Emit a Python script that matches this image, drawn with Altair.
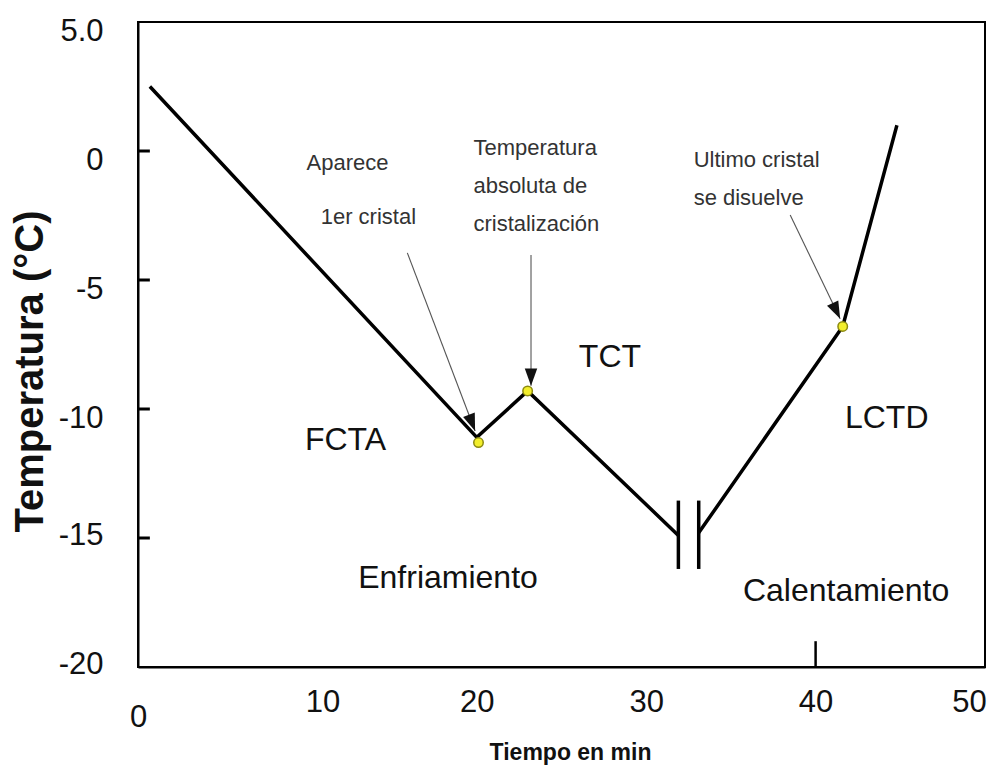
import math
import altair as alt
import pandas as pd

# ---- data ----
# cooling curve (before the axis break) and heating curve (after the break)
seg1_x = [0.7, 20.0, 23.0, 31.9]
seg1_y = [2.5, -11.1, -9.3, -14.9]
seg2_x = [33.1, 41.6, 44.8]
seg2_y = [-14.8, -6.8, 1.0]

# highlighted points
dot_x = [20.1, 23.0, 41.6]
dot_y = [-11.3, -9.3, -6.8]

# axis-break bars
break_x = [31.9, 33.1]
break_top = [-13.55, -13.55]
break_bot = [-16.2, -16.2]

# axes
x_ticks = [0, 10, 20, 30, 40, 50]
y_ticks = [5, 0, -5, -10, -15, -20]
y_inner_ticks = [0, -5, -10, -15]
x_inner_ticks = [40]

# region labels
region_text = ["FCTA", "TCT", "LCTD", "Enfriamiento", "Calentamiento"]
region_x = [12.25, 27.86, 44.2, 18.3, 41.8]
region_y = [-11.2, -7.98, -10.35, -16.55, -17.05]

# annotations
note_c_text = ["Aparece", "1er cristal"]
note_c_x = [12.37, 13.6]
note_c_y = [-0.47, -2.56]

note_l_text = ["Temperatura\nabsoluta de\ncristalización", "Ultimo cristal\nse disuelve"]
note_l_x = [19.8, 32.8]
note_l_y = [0.12, -0.35]

arrow_x1 = [15.9, 23.2, 38.5]
arrow_y1 = [-3.95, -4.03, -2.48]
arrow_x2 = [19.9, 23.2, 41.45]
arrow_y2 = [-10.85, -9.1, -6.5]

# ---- chart ----
W, H = 847, 645
XMIN, XMAX, YMIN, YMAX = 0, 50, -20, 5
FONT = "Liberation Sans, Arial, sans-serif"

x_scale = alt.Scale(domain=[XMIN, XMAX], nice=False, zero=False)
y_scale = alt.Scale(domain=[YMIN, YMAX], nice=False, zero=False)

x_axis = alt.Axis(
    values=x_ticks, title="Tiempo en min", labelFont=FONT, labelFontSize=31,
    labelBaseline={"condition": {"test": "datum.value == 0", "value": "top"}, "value": "middle"},
    labelPadding=35, labelFlush=False, labelOverlap=False,
    labelOffset={"condition": [
        {"test": "datum.value == 10", "value": 15},
        {"test": "datum.value == 50", "value": -16},
    ], "value": 0},
    titleFont=FONT, titleFontSize=23, titleFontWeight="bold",
    titleX=432, titleY=85, titleBaseline="middle", titleAlign="center",
)
y_axis = alt.Axis(
    values=y_ticks, title="Temperatura (°C)", labelFont=FONT, labelFontSize=31,
    labelPadding=35, labelFlush=False, labelOverlap=False,
    labelExpr="datum.value == 5 ? '5.0' : toString(datum.value)",
    labelOffset={"condition": {"test": "datum.value < -12", "value": -3}, "value": 9},
    titleFont=FONT, titleFontSize=40, titleFontWeight="bold",
    titleX=-108, titleY=349, titleBaseline="middle", titleAlign="center", titleAngle=270,
)

X = alt.X("x:Q", scale=x_scale, axis=x_axis)
Y = alt.Y("y:Q", scale=y_scale, axis=y_axis)

curve = pd.DataFrame({
    "x": seg1_x + seg2_x,
    "y": seg1_y + seg2_y,
    "seg": ["enfriamiento"] * len(seg1_x) + ["calentamiento"] * len(seg2_x),
    "ord": list(range(len(seg1_x) + len(seg2_x))),
})
line = alt.Chart(curve).mark_line(
    color="black", strokeWidth=3.5, strokeJoin="miter", strokeCap="butt"
).encode(x=X, y=Y, detail="seg:N", order="ord:Q")

breaks = pd.DataFrame({"x": break_x, "y": break_top, "y2": break_bot})
break_rules = alt.Chart(breaks).mark_rule(color="black", strokeWidth=3.5).encode(
    x=X, y=Y, y2="y2:Q")

ytk = pd.DataFrame({"x": [XMIN] * len(y_inner_ticks), "x2": [XMIN + 0.7] * len(y_inner_ticks),
                    "y": y_inner_ticks})
ytick_rules = alt.Chart(ytk).mark_rule(color="black", strokeWidth=3).encode(x=X, x2="x2:Q", y=Y)

xtk = pd.DataFrame({"x": x_inner_ticks, "y": [YMIN] * len(x_inner_ticks),
                    "y2": [YMIN + 1.0] * len(x_inner_ticks)})
xtick_rules = alt.Chart(xtk).mark_rule(color="black", strokeWidth=2.5).encode(x=X, y=Y, y2="y2:Q")

px_x = W / (XMAX - XMIN)
px_y = H / (YMAX - YMIN)
angles = []
for a, b, c, d in zip(arrow_x1, arrow_y1, arrow_x2, arrow_y2):
    dx = (c - a) * px_x
    dy = -(d - b) * px_y
    angles.append(math.degrees(math.atan2(-dx, dy)) % 360)
arrows = pd.DataFrame({"x": arrow_x1, "y": arrow_y1, "x2": arrow_x2, "y2": arrow_y2})
arrow_lines = alt.Chart(arrows).mark_rule(color="#555555", strokeWidth=1.1).encode(
    x=X, y=Y, x2="x2:Q", y2="y2:Q")
heads = pd.DataFrame({"x": arrow_x2, "y": arrow_y2, "ang": angles})
arrow_heads = alt.Chart(heads).mark_point(
    shape="M0,0L-0.36,-1L0.36,-1Z", filled=True, color="#111111", size=1200, opacity=1
).encode(x=X, y=Y, angle=alt.Angle("ang:Q", scale=None))

dots = pd.DataFrame({"x": dot_x, "y": dot_y})
dot_marks = alt.Chart(dots).mark_point(
    shape="circle", filled=True, fill="#f2ee2c", stroke="#8c8a10", strokeWidth=1.5,
    size=90, opacity=1
).encode(x=X, y=Y)

regions = pd.DataFrame({"x": region_x, "y": region_y, "t": region_text})
region_marks = alt.Chart(regions).mark_text(
    font=FONT, fontSize=32, color="#111111", align="center", baseline="middle"
).encode(x=X, y=Y, text="t:N")

notes_c = pd.DataFrame({"x": note_c_x, "y": note_c_y, "t": note_c_text})
note_c_marks = alt.Chart(notes_c).mark_text(
    font=FONT, fontSize=22, color="#333333", align="center", baseline="middle"
).encode(x=X, y=Y, text="t:N")

notes_l = pd.DataFrame({"x": note_l_x, "y": note_l_y, "t": note_l_text})
note_l_marks = alt.Chart(notes_l).mark_text(
    font=FONT, fontSize=22, color="#333333", align="left", baseline="middle",
    lineBreak="\n", lineHeight=38
).encode(x=X, y=Y, text="t:N")

chart = alt.layer(
    line, break_rules, ytick_rules, xtick_rules, arrow_lines, arrow_heads, dot_marks,
    region_marks, note_c_marks, note_l_marks
).properties(
    width=W, height=H,
    autosize=alt.AutoSizeParams(type="none"),
    padding={"left": 130, "top": 14, "right": 2, "bottom": 104},
).configure_view(
    stroke="black", strokeWidth=2
).configure_axis(
    grid=False, ticks=False, domainColor="black", domainWidth=2,
    labelColor="#111111", titleColor="#111111"
)

chart.save("out.html", embed_options={"renderer": "svg", "actions": False})
